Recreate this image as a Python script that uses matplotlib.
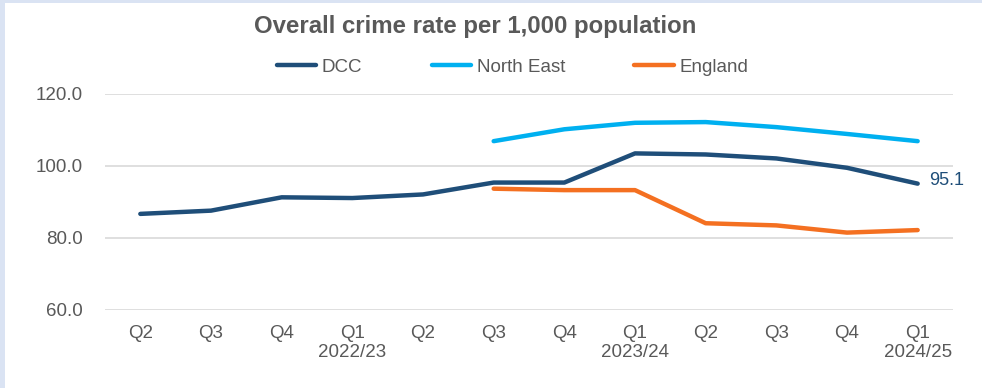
import matplotlib.pyplot as plt
from matplotlib.patches import Rectangle
import numpy as np

plt.rcParams['font.family'] = ['Liberation Sans', 'DejaVu Sans']

quarters = ["Q2", "Q3", "Q4", "Q1\n2022/23", "Q2", "Q3", "Q4", "Q1\n2023/24",
            "Q2", "Q3", "Q4", "Q1\n2024/25"]
dcc = [86.7, 87.6, 91.3, 91.1, 92.1, 95.4, 95.4, 103.5, 103.2, 102.1, 99.5, 95.1]
north_east = [None, None, None, None, None, 106.9, 110.2, 112.0, 112.2, 110.8, 108.9, 106.9]
england = [None, None, None, None, None, 93.7, 93.3, 93.3, 84.1, 83.5, 81.5, 82.2]

def to_arr(vals):
    return np.array([np.nan if v is None else v for v in vals], dtype=float)

fig = plt.figure(figsize=(9.82, 3.88), dpi=100, facecolor="#dae3f3")
fig.patches.append(Rectangle((5 / 982, 0), 1, 1 - 3 / 388, transform=fig.transFigure,
                             facecolor="white", edgecolor="none", zorder=-10))

# plot area: gridline 120 at y=94 px, 60 at y=310 px
ax = fig.add_axes([105 / 982, 1 - 310 / 388, (953 - 105) / 982, (310 - 94) / 388])
ax.set_facecolor("none")
x = np.arange(len(quarters))

ax.plot(x, to_arr(dcc), color="#1f4e79", lw=3.2, label="DCC", solid_capstyle="round")
ax.plot(x, to_arr(north_east), color="#00b0f0", lw=3.2, label="North East", solid_capstyle="round")
ax.plot(x, to_arr(england), color="#f47021", lw=3.2, label="England", solid_capstyle="round")

ax.annotate(f"{dcc[-1]:.1f}", (x[-1], dcc[-1]), xytext=(8, 2), textcoords="offset points",
            color="#1f4e79", fontsize=13, va="center", ha="left")

ax.set_xlim(-0.5, len(quarters) - 0.5)
ax.set_ylim(60, 120)
ax.set_yticks([60, 80, 100, 120])
ax.set_yticklabels([f"{v:.1f}" for v in [60, 80, 100, 120]])
ax.set_xticks(x)
ax.set_xticklabels(quarters, linespacing=1.1)
ax.tick_params(length=0, labelsize=13.5, labelcolor="#595959")
ax.tick_params(axis="x", pad=11)
ax.tick_params(axis="y", pad=16)
ax.grid(axis="y", color="#d9d9d9", lw=1.2)
ax.set_axisbelow(True)
for s in ax.spines.values():
    s.set_visible(False)

fig.text(475 / 982, 1 - 27 / 388, "Overall crime rate per 1,000 population", ha="center", va="center",
         fontsize=17.3, fontweight="bold", color="#595959")
fig.legend(loc="center", bbox_to_anchor=(0.522, 1 - 67 / 388), ncol=3, frameon=False,
           fontsize=13.5, labelcolor="#595959", handlelength=2.1, handletextpad=0.3,
           columnspacing=3.7)

fig.savefig("out.png", dpi=100, facecolor=fig.get_facecolor())
